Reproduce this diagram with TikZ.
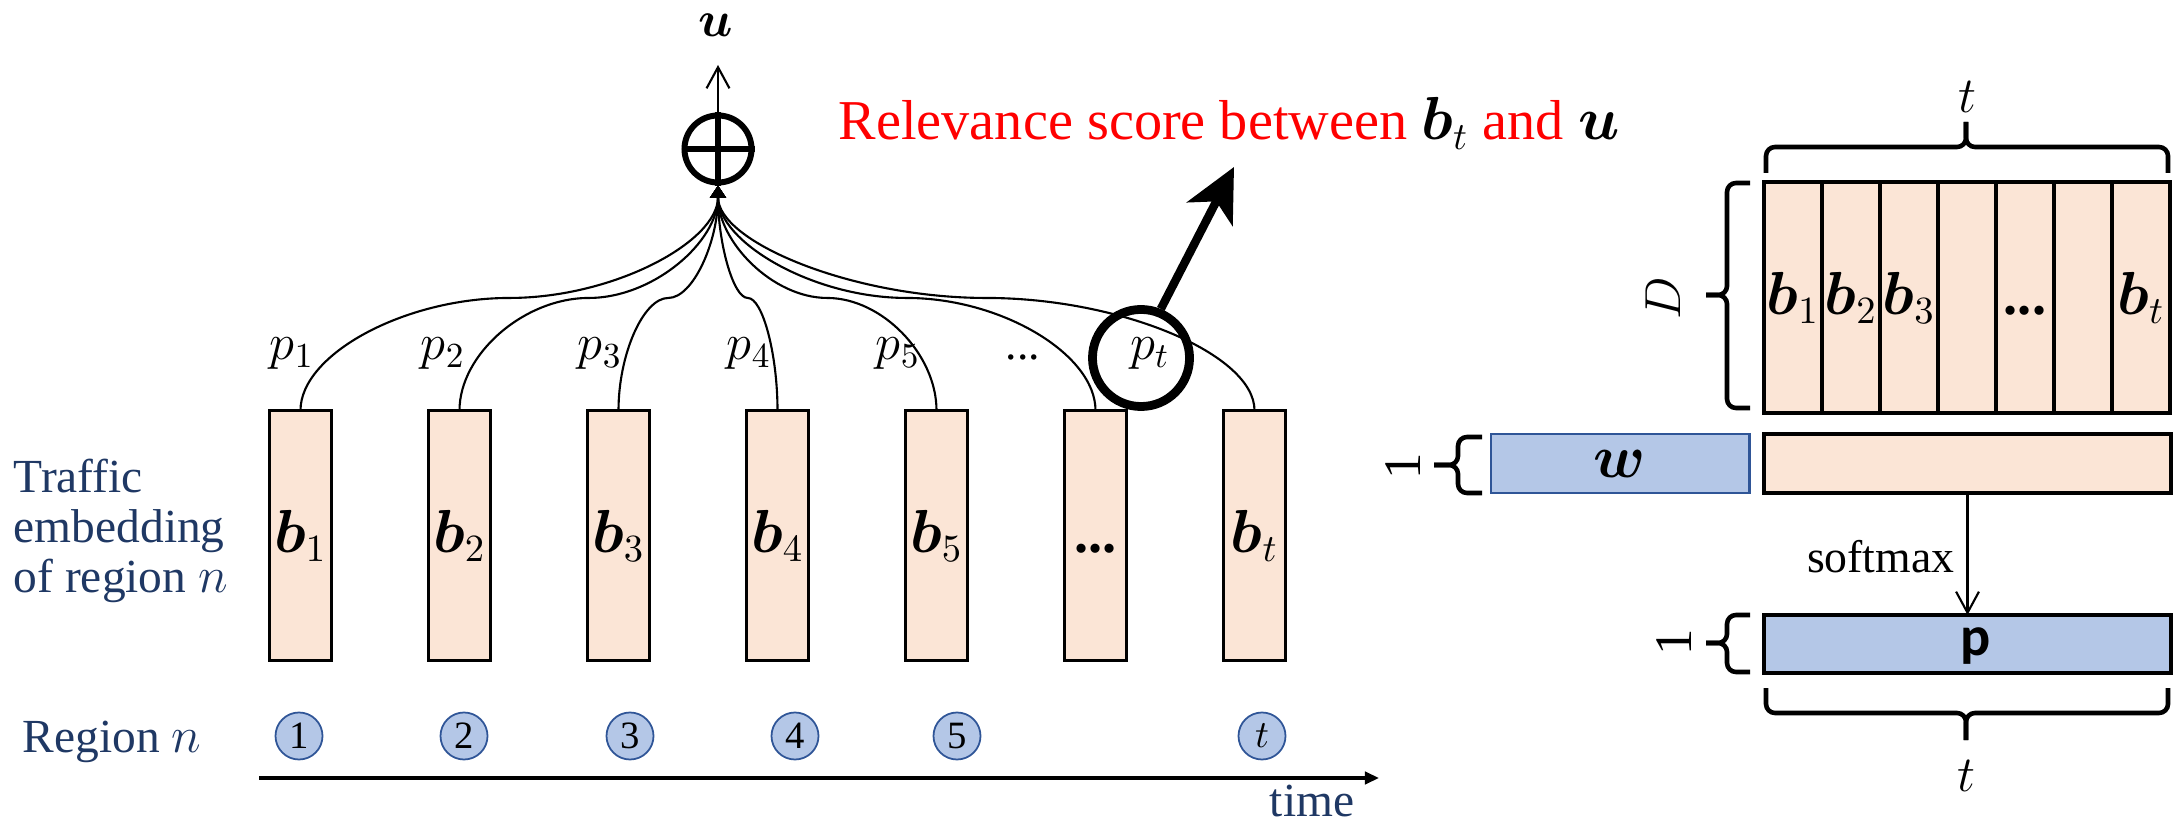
\documentclass[tikz,border=0pt]{standalone}
\usepackage{fontspec}
\setmainfont{Liberation Serif}
\newfontfamily\sansp{Carlito}
\usepackage{bm}
\usetikzlibrary{arrows.meta,calc}
\definecolor{peach}{HTML}{FBE5D6}
\definecolor{lblue}{HTML}{B4C7E7}
\definecolor{bblue}{HTML}{2F5597}
\definecolor{navy}{HTML}{1F3864}
\tikzset{
  bar/.style={draw, line width=1pt, fill=peach, minimum width=0.62cm, minimum height=2.5cm, inner sep=0pt, outer sep=0pt, font=\fontsize{16}{19}\selectfont},
  mcol/.style={draw, line width=1pt, fill=peach, minimum width=0.58cm, minimum height=2.31cm, inner sep=0pt, outer sep=0pt, font=\fontsize{16}{19}\selectfont},
  region/.style={circle, draw=bblue, line width=0.5pt, fill=lblue, minimum size=0.47cm, inner sep=0pt, font=\fontsize{11}{13}\selectfont},
  plab/.style={anchor=base, inner sep=0pt, font=\fontsize{14.5}{17}\selectfont},
  navytext/.style={text=navy, anchor=base west, inner sep=0pt, font=\fontsize{13.5}{16}\selectfont},
  brc/.style={line width=1.3pt, rounded corners=0.09cm},
  conn/.style={line width=0.6pt, -{Triangle[length=3.5pt,width=4.5pt]}},
  thinarrow/.style={line width=0.6pt, -{Straight Barb[length=6pt,width=6.5pt]}},
  lbl/.style={inner sep=0pt, font=\fontsize{15.5}{18}\selectfont},
  ppt/.style={to path={let \p1=(\tikztostart), \p2=(\tikztotarget) in
    .. controls (\x1,{(3*\y1+\y2)/4}) and ({(3*\x1+\x2)/4},{(\y1+\y2)/2}) .. ({(\x1+\x2)/2},{(\y1+\y2)/2})
    .. controls ({(\x1+3*\x2)/4},{(\y1+\y2)/2}) and (\x2,{(\y1+3*\y2)/4}) .. (\tikztotarget)}}
}
\begin{document}
\begin{tikzpicture}[x=0.01cm,y=-0.01cm]
\useasboundingbox (0,0) rectangle (2176,825);

% bars
\node[bar] (b1) at (300.5,535.5) {$\bm{b}_1$};
\node[bar] (b2) at (459.5,535.5) {$\bm{b}_2$};
\node[bar] (b3) at (618.5,535.5) {$\bm{b}_3$};
\node[bar] (b4) at (777.5,535.5) {$\bm{b}_4$};
\node[bar] (b5) at (936.5,535.5) {$\bm{b}_5$};
\node[bar] (b6) at (1095.5,535.5) {\textbf{...}\vphantom{$\bm{b}_1$}};
\node[bar] (b7) at (1254.5,535.5) {$\bm{b}_t$};

% sum node
\node[circle, draw, line width=1.7pt, minimum size=0.67cm, inner sep=0pt, fill=white] (plus) at (718,149) {};
\draw[line width=1.7pt] (plus.north) -- (plus.south) (plus.west) -- (plus.east);
\node[anchor=base, inner sep=0pt, font=\fontsize{14.5}{17}\selectfont] (ulab) at (716,37) {$\bm{u}$};
\coordinate (utip) at (718,65);
\draw[thinarrow] (plus.north) -- (utip);

% curves
\foreach \i in {1,...,7} \draw[conn] (b\i.north) to[ppt] (plus.south);

% p labels
\node[plab] (p1) at (292,360) {$p_1$};
\node[plab] (p2) at (443,360) {$p_2$};
\node[plab] (p3) at (600,360) {$p_3$};
\node[plab] (p4) at (749,360) {$p_4$};
\node[plab] (p5) at (898,360) {$p_5$};
\node[plab, font=\fontsize{13}{15}\selectfont] (pdots) at (1023,360) {...};
\node[plab] (pt) at (1150,360) {$p_t$};
\node[circle, draw, line width=2.5pt, minimum size=0.97cm, inner sep=0pt] (ptc) at (1141,358) {};
\coordinate (rtip) at (1234,167);
\draw[line width=2.4pt, -{Stealth[length=15pt,width=14.5pt,inset=4pt]}] (ptc.68) -- (rtip);

\node[anchor=base west, text=red, inner sep=0pt, font=\fontsize{16}{19}\selectfont] (rel) at (838,140) {Relevance score between {\color{black}$\bm{b}_t$} and {\color{black}$\bm{u}$}};

% left texts
\node[navytext] (tr1) at (13,493) {Traffic};
\node[navytext] (tr2) at (13,543) {embedding};
\node[navytext] (tr3) at (13,593) {of region $n$};
\node[navytext] (reg) at (22,752) {Region $n$};

% regions
\node[region] (r1) at (299,736) {1};
\node[region] (r2) at (464,736) {2};
\node[region] (r3) at (630,736) {3};
\node[region] (r4) at (795,736) {4};
\node[region] (r5) at (957,736) {5};
\node[region] (r6) at (1262,736) {$t$};

% time axis
\coordinate (ta) at (259,778);
\coordinate (tb) at (1379,778);
\draw[line width=0.9pt, -{Triangle[length=4pt,width=3.5pt]}] (ta) -- (tb);
\node[navytext, anchor=base] (time) at (1312,816) {time};

% matrix
\node[mcol] (m1) at (1793,297.5) {$\bm{b}_1$};
\node[mcol] (m2) at (1851,297.5) {$\bm{b}_2$};
\node[mcol] (m3) at (1909,297.5) {$\bm{b}_3$};
\node[mcol] (m4) at (1967,297.5) {};
\node[mcol] (m5) at (2025,297.5) {\textbf{...}\vphantom{$\bm{b}_1$}};
\node[mcol] (m6) at (2083,297.5) {};
\node[mcol] (m7) at (2141,297.5) {$\bm{b}_t$};

% rows
\node[draw, line width=1pt, fill=peach, minimum width=4.07cm, minimum height=0.59cm, inner sep=0pt, outer sep=0pt] (orow) at (1967.5,463.5) {};
\node[draw=bblue, line width=0.8pt, fill=lblue, minimum width=2.58cm, minimum height=0.59cm, inner sep=0pt, font=\fontsize{16}{19}\selectfont] (wbox) at (1620,463.5) {$\bm{w}$};
\node[draw, line width=1pt, fill=lblue, minimum width=4.07cm, minimum height=0.58cm, inner sep=0pt, outer sep=0pt] (pbox) at (1967.5,644) {};
\node[inner sep=0pt, font=\sansp\bfseries\fontsize{16}{19}\selectfont] (plab) at (1976,646) {p};
\draw[thinarrow] (orow.south) -- (pbox.north);
\node[anchor=east, inner sep=0pt, font=\fontsize{13}{15}\selectfont] (smx) at (1955,557) {softmax};

% braces
\draw[brc] (1766,173) -- (1766,147) -- (1966,147) -- (1966,122);
\draw[brc] (2168,173) -- (2168,147) -- (1966,147) -- (1966,122);
\draw[brc] (1750,183) -- (1727,183) -- (1727,295) -- (1706,295);
\draw[brc] (1750,408) -- (1727,408) -- (1727,295) -- (1706,295);
\draw[brc] (1482,437) -- (1458,437) -- (1458,465) -- (1434,465);
\draw[brc] (1482,493) -- (1458,493) -- (1458,465) -- (1434,465);
\draw[brc] (1750,615) -- (1727,615) -- (1727,643) -- (1706,643);
\draw[brc] (1750,672) -- (1727,672) -- (1727,643) -- (1706,643);
\draw[brc] (1766,688) -- (1766,713) -- (1966,713) -- (1966,740);
\draw[brc] (2168,688) -- (2168,713) -- (1966,713) -- (1966,740);

\node[lbl] (ttop) at (1967,97) {$t$};
\node[lbl, rotate=90] (dlab) at (1663,298) {$D$};
\node[lbl, font=\fontsize{15}{18}\selectfont, rotate=90] (one1) at (1403,466) {1};
\node[lbl, font=\fontsize{15}{18}\selectfont, rotate=90] (one2) at (1674,642) {1};
\node[lbl] (tbot) at (1966,776) {$t$};
\end{tikzpicture}
\end{document}
